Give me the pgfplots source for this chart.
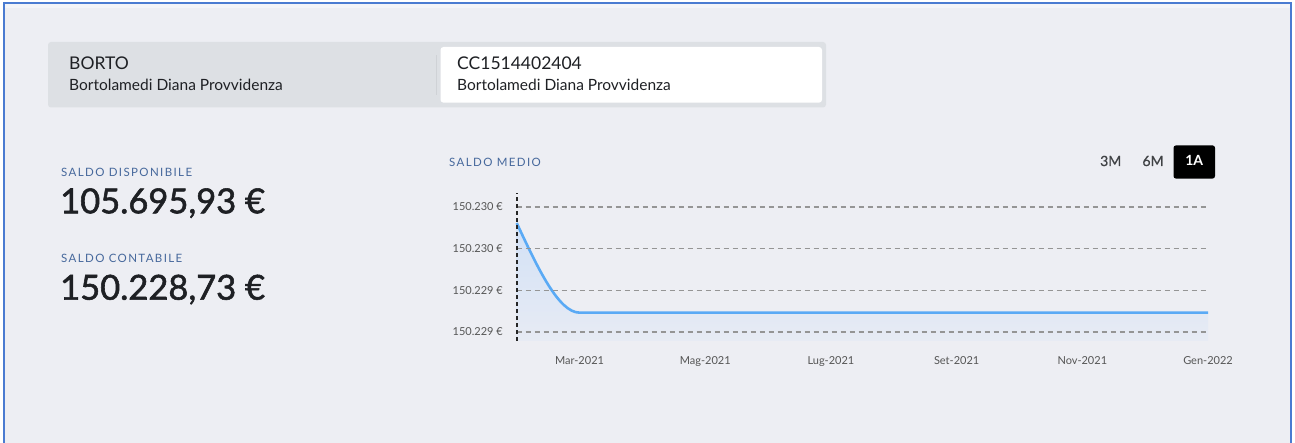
\documentclass[border=0pt]{standalone}
\usepackage{fontspec}
\setmainfont{Lato}
\usepackage{pgfplots}
\pgfplotsset{compat=1.18}

\definecolor{bg}{HTML}{EDEEF3}
\definecolor{bgtop}{HTML}{F3F4F8}
\definecolor{frameblue}{HTML}{4A7BD1}
\definecolor{boxgray}{HTML}{DDE0E4}
\definecolor{divider}{HTML}{CFD2D6}
\definecolor{darktext}{HTML}{1E2024}
\definecolor{labelblue}{HTML}{46689C}
\definecolor{tickgray}{HTML}{555555}
\definecolor{gridgray}{HTML}{959595}
\definecolor{linecol}{HTML}{5AAAF5}
\definecolor{filltop}{HTML}{D2E1F6}
\definecolor{fillbot}{HTML}{E7EBF4}

% monotone cubic (d3 curveMonotoneX style) plot handler
\makeatletter
\newcount\mono@n
\def\pgfplothandlermonotone{%
  \def\pgf@plotstreamstart{%
    \global\mono@n=0\relax
    \global\let\pgf@plotstreampoint=\mono@point
    \global\let\pgf@plotstreamspecial=\pgfutil@gobble
    \global\let\pgf@plotstreamend=\mono@end
  }%
}
\def\mono@abs#1{\number\numexpr\ifnum#1<0 -1*\fi#1\relax}
\def\mono@segment{%
  \edef\mono@dx{\number\numexpr(\mono@xb-\mono@xa)/3\relax}%
  \pgfpathcurveto
    {\pgfqpoint{\numexpr\mono@xa+\mono@dx\relax sp}{\numexpr\mono@ya+\mono@dx*\mono@ta/65536\relax sp}}%
    {\pgfqpoint{\numexpr\mono@xb-\mono@dx\relax sp}{\numexpr\mono@yb-\mono@dx*\mono@tb/65536\relax sp}}%
    {\pgfqpoint{\mono@xb sp}{\mono@yb sp}}%
}
\def\mono@slopethree{%
  \def\mono@sg{0}%
  \ifnum\mono@sa>0 \ifnum\mono@sb>0 \def\mono@sg{1}\fi\fi
  \ifnum\mono@sa<0 \ifnum\mono@sb<0 \def\mono@sg{-1}\fi\fi
  \ifnum\mono@sg=0\relax
    \xdef\mono@tb{0}%
  \else
    \edef\mono@p{\number\numexpr\mono@sa*\mono@hb/(\mono@ha+\mono@hb)+\mono@sb*\mono@ha/(\mono@ha+\mono@hb)\relax}%
    \edef\mono@m{\mono@abs\mono@sa}%
    \edef\mono@q{\mono@abs\mono@sb}%
    \ifnum\mono@q<\mono@m\relax \let\mono@m=\mono@q\fi
    \edef\mono@q{\number\numexpr\mono@abs\mono@p/2\relax}%
    \ifnum\mono@q<\mono@m\relax \let\mono@m=\mono@q\fi
    \xdef\mono@tb{\number\numexpr2*\mono@sg*\mono@m\relax}%
  \fi
}
\def\mono@point#1{%
  \pgf@process{#1}%
  \xdef\mono@xc{\number\pgf@x}%
  \xdef\mono@yc{\number\pgf@y}%
  \global\advance\mono@n by 1\relax
  \ifnum\mono@n=1\relax
    \pgf@plot@first@action{\pgfqpoint{\mono@xc sp}{\mono@yc sp}}%
  \else
    \xdef\mono@hb{\number\numexpr\mono@xc-\mono@xb\relax}%
    \ifnum\mono@hb=0\relax
      \xdef\mono@sb{0}%
    \else
      \xdef\mono@sb{\number\numexpr(\mono@yc-\mono@yb)*65536/\mono@hb\relax}%
    \fi
    \ifnum\mono@n>2\relax
      \mono@slopethree
      \ifnum\mono@n=3\relax
        \xdef\mono@ta{\number\numexpr(3*\mono@sa-\mono@tb)/2\relax}%
      \fi
      \mono@segment
      \global\let\mono@ta=\mono@tb
    \fi
    \global\let\mono@xa=\mono@xb
    \global\let\mono@ya=\mono@yb
    \global\let\mono@ha=\mono@hb
    \global\let\mono@sa=\mono@sb
  \fi
  \global\let\mono@xb=\mono@xc
  \global\let\mono@yb=\mono@yc
}
\def\mono@end{%
  \ifnum\mono@n=2\relax
    \pgfpathlineto{\pgfqpoint{\mono@xb sp}{\mono@yb sp}}%
  \fi
  \ifnum\mono@n>2\relax
    \xdef\mono@tb{\number\numexpr(3*\mono@sa-\mono@ta)/2\relax}%
    \mono@segment
  \fi
}
\tikzset{monotone/.code={\let\tikz@plot@handler=\pgfplothandlermonotone}}
\makeatother

% Saldo medio per month, in euro minus 150000 (Feb-2021 = 0 ... Gen-2022 = 11)
\pgfplotstableread{
m saldo
0 229.723
1 229.293
2 229.293
3 229.293
4 229.293
5 229.293
6 229.293
7 229.293
8 229.293
9 229.293
10 229.293
11 229.293
}\saldomedio

\newcommand{\lbl}{\fontsize{11.5}{13}\selectfont\addfontfeature{LetterSpace=12}\color{labelblue}}
\newcommand{\bignum}{\fontsize{34.5}{40}\selectfont\addfontfeature{FakeBold=1.6}}

\begin{document}
\begin{tikzpicture}[x=1pt,y=1pt]
\useasboundingbox (0,0) rectangle (1295,443);
\fill[white] (0,0) rectangle (1295,443);
\fill[bg] (3,0) rectangle (1291,440);
\fill[bgtop] (4,434.5) rectangle (1290,439);
\draw[frameblue, line width=2pt] (3.5,0) -- (3.5,439.7) -- (1291.3,439.7) -- (1291.3,0);

% account header boxes
\fill[boxgray, rounded corners=3pt] (48,335.5) rectangle (826,401);
\draw[divider, line width=1pt] (436,348) -- (436,388);
\fill[white, rounded corners=3pt] (440.5,340.3) rectangle (822,396);
\node[anchor=base west, inner sep=0, text=darktext, font=\fontsize{17.5}{20}\selectfont] at (69,373) {BORTO};
\node[anchor=base west, inner sep=0, text=darktext, font=\fontsize{15.5}{18}\selectfont] at (69,352) {Bortolamedi Diana Provvidenza};
\node[anchor=base west, inner sep=0, text=darktext, font=\fontsize{17.5}{20}\selectfont] at (457,373) {CC1514402404};
\node[anchor=base west, inner sep=0, text=darktext, font=\fontsize{15.5}{18}\selectfont] at (457,352) {Bortolamedi Diana Provvidenza};

% balances
\node[anchor=base west, inner sep=0] at (61,266.5) {\lbl SALDO DISPONIBILE};
\node[anchor=base west, inner sep=0, text=darktext] at (60,229.7) {\bignum 105.695,93 €};
\node[anchor=base west, inner sep=0] at (61,180) {\lbl SALDO CONTABILE};
\node[anchor=base west, inner sep=0, text=darktext] at (60,143.3) {\bignum 150.228,73 €};

% chart header
\node[anchor=base west, inner sep=0] at (449,276.8) {\lbl SALDO MEDIO};
\node[anchor=base, inner sep=0, text=darktext!85, font=\fontsize{14}{17}\selectfont\addfontfeature{FakeBold=0.8}] at (1110.7,277) {3M};
\node[anchor=base, inner sep=0, text=darktext!85, font=\fontsize{14}{17}\selectfont\addfontfeature{FakeBold=0.8}] at (1153,277) {6M};
\fill[black, rounded corners=2.5pt] (1173.5,264.4) rectangle (1215,297.6);
\node[anchor=base, inner sep=0, text=white, font=\fontsize{14}{17}\selectfont\bfseries] at (1194.2,277) {1A};

\begin{axis}[
  at={(516.7pt,102pt)}, anchor=south west,
  scale only axis, width=691.3pt, height=148pt,
  axis on top,
  xmin=0, xmax=11, ymin=229.157, ymax=229.867,
  axis lines=left,
  axis line style={-},
  x axis line style={draw=none},
  y axis line style={draw=black!85, line width=1.8pt, dash pattern=on 4pt off 3pt},
  major tick length=0pt,
  xtick={1,3,5,7,9,11},
  xticklabels={Mar-2021,Mag-2021,Lug-2021,Set-2021,Nov-2021,Gen-2022},
  ytick={229.2,229.4,229.6,229.8},
  yticklabels={150.229 €,150.229 €,150.230 €,150.230 €},
  ymajorgrids,
  major grid style={gridgray, line width=1.3pt, dash pattern=on 5pt off 4pt},
  ticklabel style={font=\fontsize{11}{13}\selectfont, text=tickgray, inner sep=0pt},
  yticklabel style={anchor=east, xshift=-13.7pt},
  xticklabel style={anchor=base, yshift=-23.5pt},
  clip=false,
]
\addplot[draw=none, monotone, top color=filltop, bottom color=fillbot] table[x=m, y=saldo] {\saldomedio} \closedcycle;
\addplot[linecol, line width=2.6pt, monotone, mark=none] table[x=m, y=saldo] {\saldomedio};
\end{axis}
\end{tikzpicture}
\end{document}
